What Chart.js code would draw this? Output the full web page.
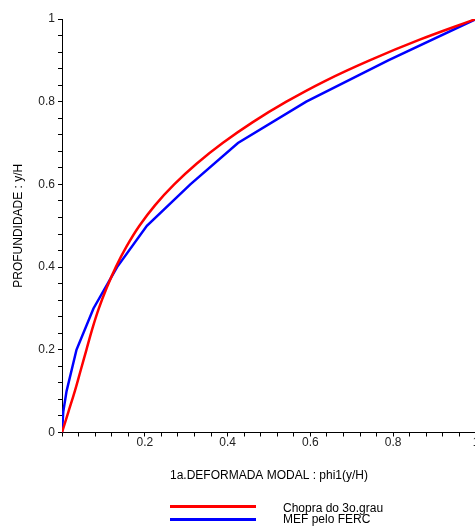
<!DOCTYPE html>
<html>
<head>
<meta charset="utf-8">
<script src="https://cdn.jsdelivr.net/npm/chart.js@4"></script>
<style>
  body { margin: 0; background: #fff; overflow: hidden; }
  #wrap { position: relative; width: 475px; height: 526px; overflow: hidden; background: #fff; }
  #myChart { position: absolute; left: 0; top: 0; }
  .lgLine { position: absolute; left: 170px; width: 86px; height: 3px; }
  .lgText { position: absolute; left: 283px; font: 12px "Liberation Sans", Arial, sans-serif; line-height: 12px; color: #000; white-space: nowrap; }
</style>
</head>
<body>
<div id="wrap">
  <canvas id="myChart" width="477" height="526"></canvas>
  <div id="legend"></div>
</div>
<script>
// y/H (depth) and phi1 values
const chopraDepth = [0, 0.05, 0.1, 0.15, 0.2, 0.25, 0.3, 0.35, 0.4, 0.45, 0.5, 0.55, 0.6, 0.65, 0.7, 0.75, 0.8, 0.85, 0.9, 0.95, 1];
const chopraPhi   = [0, 0.0155, 0.031, 0.045, 0.059, 0.073, 0.089, 0.108, 0.13, 0.156, 0.187, 0.225, 0.271, 0.325, 0.388, 0.46, 0.542, 0.635, 0.743, 0.864, 1];

const mefDepth = [0, 0.05, 0.1, 0.2, 0.3, 0.4, 0.5, 0.6, 0.7, 0.8, 0.9, 1];
const mefPhi   = [0, 0.003, 0.011, 0.035, 0.076, 0.133, 0.205, 0.31, 0.425, 0.59, 0.788, 1];

const seriesNames = ['Chopra do 3o.grau', 'MEF pelo FERC'];
const seriesColors = ['#ff0000', '#0000ff'];
const majorTicks = [0, 0.2, 0.4, 0.6, 0.8, 1];

const FONT = '"Liberation Sans", Arial, sans-serif';

function toPoints(xs, ys) {
    return xs.map((x, i) => ({ x: x, y: ys[i] }));
}
function majorLabel(v, hideZero) {
    const hit = majorTicks.find(t => Math.abs(t - v) < 1e-6);
    if (hit === undefined) return '';
    if (hideZero && hit === 0) return '';
    return String(hit);
}

const ctx = document.getElementById('myChart').getContext('2d');
const myChart = new Chart(ctx, {
    type: 'line',
    data: {
        datasets: [{
            label: seriesNames[0],
            data: toPoints(chopraPhi, chopraDepth),
            borderColor: seriesColors[0],
            borderWidth: 2.5,
            pointRadius: 0,
            tension: 0.4,
            fill: false
        }, {
            label: seriesNames[1],
            data: toPoints(mefPhi, mefDepth),
            borderColor: seriesColors[1],
            borderWidth: 2.5,
            pointRadius: 0,
            tension: 0,
            fill: false
        }]
    },
    options: {
        responsive: false,
        animation: false,
        devicePixelRatio: 1,
        layout: { padding: { top: 19, bottom: 43, left: 0, right: 1 } },
        plugins: {
            legend: { display: false },
            tooltip: { enabled: false }
        },
        scales: {
            x: {
                type: 'linear',
                min: 0,
                max: 1,
                ticks: {
                    stepSize: 0.04,
                    maxTicksLimit: 100,
                    autoSkip: false,
                    maxRotation: 0,
                    padding: -1,
                    color: '#222',
                    font: { family: FONT, size: 12 },
                    callback: v => majorLabel(v, true)
                },
                grid: { drawOnChartArea: false, drawTicks: true, tickLength: 4, color: '#000' },
                border: { display: true, color: '#000', width: 1 },
                title: {
                    display: true,
                    text: '1a.DEFORMADA MODAL : phi1(y/H)',
                    color: '#000',
                    font: { family: FONT, size: 12 },
                    padding: { top: 0, bottom: 0 }
                },
                afterFit: s => { s.height = 50.5; s.paddingLeft = 0; s.paddingRight = 0; }
            },
            y: {
                type: 'linear',
                min: 0,
                max: 1,
                ticks: {
                    stepSize: 0.04,
                    maxTicksLimit: 100,
                    autoSkip: false,
                    padding: 3,
                    color: '#222',
                    font: { family: FONT, size: 12 },
                    callback: v => majorLabel(v, false)
                },
                grid: { drawOnChartArea: false, drawTicks: true, tickLength: 4, color: '#000' },
                border: { display: true, color: '#000', width: 1 },
                title: {
                    display: true,
                    text: 'PROFUNDIDADE : y/H',
                    color: '#000',
                    font: { family: FONT, size: 12 },
                    padding: { top: 11, bottom: 0 }
                },
                afterFit: s => { s.width = 62; s.paddingTop = 0; s.paddingBottom = 0; }
            }
        }
    }
});

// legend under the chart, one entry per line
const legend = document.getElementById('legend');
myChart.data.datasets.forEach((ds, i) => {
    const line = document.createElement('div');
    line.className = 'lgLine';
    line.style.top = (505 + i * 12.5) + 'px';
    line.style.background = ds.borderColor;
    legend.appendChild(line);
    const txt = document.createElement('div');
    txt.className = 'lgText';
    txt.style.top = (501.5 + i * 11.5) + 'px';
    txt.textContent = ds.label;
    legend.appendChild(txt);
});
</script>
</body>
</html>
